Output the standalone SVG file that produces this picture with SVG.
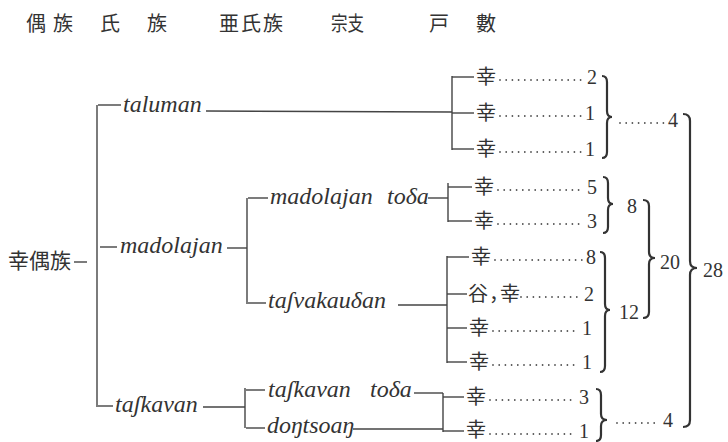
<svg xmlns="http://www.w3.org/2000/svg" width="728" height="442" viewBox="0 0 728 442">
<style>
.cjk{font-family:"Noto Sans CJK JP","Noto Sans CJK SC",sans-serif;fill:#333}
.rom{font-family:"Liberation Serif","DejaVu Serif",serif;font-style:italic;font-size:24px;fill:#333}
.num{font-family:"Liberation Serif","DejaVu Serif",serif;font-size:20px;fill:#333}
.ln{stroke:#444;stroke-width:1.4;fill:none}
.dot{stroke:#555;stroke-width:1.8;stroke-linecap:round;stroke-dasharray:0 6.2;fill:none}
.br{stroke:#333;stroke-width:2.2;fill:none}
</style>
<rect width="728" height="442" fill="#fff"/>
<g id="header" class="cjk" font-size="20">
<text x="26" y="31">偶</text>
<text x="53" y="31">族</text>
<text x="100" y="31">氏</text>
<text x="147" y="31">族</text>
<text x="219" y="31" letter-spacing="2">亜氏族</text>
<text x="331" y="31" textLength="33" lengthAdjust="spacingAndGlyphs">宗支</text>
<text x="429" y="31">戸</text>
<text x="476" y="31">數</text>
</g>
<g id="connectors">
<line class="ln" x1="74" y1="262" x2="87" y2="262"/>
<line class="ln" x1="97" y1="105" x2="97" y2="407"/>
<line class="ln" x1="98" y1="105" x2="121" y2="105"/>
<line class="ln" x1="206" y1="111" x2="452" y2="112"/>
<line class="ln" x1="100" y1="247" x2="117" y2="247"/>
<line class="ln" x1="227" y1="248" x2="247" y2="248"/>
<line class="ln" x1="98" y1="406" x2="113" y2="406"/>
<line class="ln" x1="203" y1="407" x2="245" y2="407"/>
<line class="ln" x1="247" y1="198" x2="247" y2="304"/>
<line class="ln" x1="248" y1="198" x2="268" y2="198"/>
<line class="ln" x1="428" y1="198" x2="448" y2="198"/>
<line class="ln" x1="248" y1="303" x2="266" y2="303"/>
<line class="ln" x1="398" y1="305" x2="447" y2="305"/>
<line class="ln" x1="245" y1="388" x2="245" y2="428"/>
<line class="ln" x1="246" y1="390" x2="265" y2="390"/>
<line class="ln" x1="414" y1="393" x2="443" y2="393"/>
<line class="ln" x1="246" y1="428" x2="265" y2="428"/>
<line class="ln" x1="353" y1="429" x2="443" y2="429"/>
<line class="ln" x1="452" y1="76" x2="452" y2="150"/>
<line class="ln" x1="448" y1="183" x2="448" y2="222"/>
<line class="ln" x1="447" y1="256" x2="447" y2="363"/>
<line class="ln" x1="443" y1="393" x2="443" y2="432"/>
<line class="ln" x1="452" y1="77" x2="474" y2="77"/>
<line class="ln" x1="452" y1="113" x2="474" y2="113"/>
<line class="ln" x1="452" y1="149" x2="474" y2="149"/>
<line class="ln" x1="448" y1="187" x2="472" y2="187"/>
<line class="ln" x1="448" y1="221" x2="472" y2="221"/>
<line class="ln" x1="447" y1="257" x2="469" y2="257"/>
<line class="ln" x1="447" y1="294" x2="467" y2="294"/>
<line class="ln" x1="447" y1="328" x2="467" y2="328"/>
<line class="ln" x1="447" y1="362" x2="467" y2="362"/>
<line class="ln" x1="443" y1="397" x2="464" y2="397"/>
<line class="ln" x1="443" y1="431" x2="464" y2="431"/>
<line class="dot" x1="500" y1="80" x2="584" y2="80"/>
<line class="dot" x1="500" y1="116" x2="584" y2="116"/>
<line class="dot" x1="500" y1="152" x2="584" y2="152"/>
<line class="dot" x1="498" y1="190" x2="584" y2="190"/>
<line class="dot" x1="498" y1="224" x2="584" y2="224"/>
<line class="dot" x1="495" y1="260" x2="583" y2="260"/>
<line class="dot" x1="521" y1="297" x2="580" y2="297"/>
<line class="dot" x1="493" y1="331" x2="578" y2="331"/>
<line class="dot" x1="493" y1="365" x2="578" y2="365"/>
<line class="dot" x1="490" y1="400" x2="575" y2="400"/>
<line class="dot" x1="490" y1="434" x2="575" y2="434"/>
<line class="dot" x1="620" y1="123" x2="664" y2="123"/>
<line class="dot" x1="617" y1="423" x2="659" y2="423"/>
<path class="br" d="M602 76 Q607 76 607 82 L607 111 Q607 117 612 117 Q607 117 607 123 L607 152 Q607 158 602 158"/>
<path class="br" d="M603 177 Q608 177 608 183 L608 198 Q608 204 613 204 Q608 204 608 210 L608 227 Q608 233 603 233"/>
<path class="br" d="M600 252 Q605 252 605 258 L605 304 Q605 310 610 310 Q605 310 605 316 L605 366 Q605 372 600 372"/>
<path class="br" d="M596 389 Q601 389 601 395 L601 414 Q601 420 607 420 Q601 420 601 426 L601 435 Q601 441 596 441"/>
<path class="br" d="M643 200 Q649 200 649 206 L649 252 Q649 258 655 258 Q649 258 649 264 L649 312 Q649 318 643 318"/>
<path class="br" d="M683 114 Q690 114 690 121 L690 261 Q690 268 697 268 Q690 268 690 275 L690 420 Q690 427 683 427"/>
</g>
<g id="root"><text class="cjk" x="8" y="268" font-size="21">幸偶族</text></g>
<g id="clan-taluman"><text class="rom" x="123" y="112">taluman</text></g>
<g id="clan-madolajan"><text class="rom" x="120" y="253">madolajan</text></g>
<g id="clan-taskavan"><text class="rom" x="115" y="412">taʃkavan</text></g>
<g id="sub-madolajan-toda"><text class="rom" x="270" y="204">madolajan<tspan x="387">toδa</tspan></text></g>
<g id="sub-tasvakaudan"><text class="rom" x="268" y="308">taʃvakauδan</text></g>
<g id="sub-taskavan-toda"><text class="rom" x="268" y="397">taʃkavan<tspan x="370">toδa</tspan></text></g>
<g id="sub-dontsoan"><text class="rom" x="267" y="433">doŋtsoaŋ</text></g>
<g id="rows" class="cjk" font-size="20">
<g id="row1"><text x="476" y="84">幸</text><text class="num" x="597" y="84" text-anchor="end">2</text></g>
<g id="row2"><text x="476" y="120">幸</text><text class="num" x="595" y="120" text-anchor="end">1</text></g>
<g id="row3"><text x="476" y="156">幸</text><text class="num" x="595" y="156" text-anchor="end">1</text></g>
<g id="row4"><text x="474" y="194">幸</text><text class="num" x="597" y="194" text-anchor="end">5</text></g>
<g id="row5"><text x="474" y="228">幸</text><text class="num" x="597" y="228" text-anchor="end">3</text></g>
<g id="row6"><text x="471" y="264">幸</text><text class="num" x="596" y="264" text-anchor="end">8</text></g>
<g id="row7"><text x="468 489 500" y="301">谷，幸</text><text class="num" x="594" y="301" text-anchor="end">2</text></g>
<g id="row8"><text x="469" y="335">幸</text><text class="num" x="592" y="335" text-anchor="end">1</text></g>
<g id="row9"><text x="469" y="369">幸</text><text class="num" x="592" y="369" text-anchor="end">1</text></g>
<g id="row10"><text x="466" y="404">幸</text><text class="num" x="589" y="404" text-anchor="end">3</text></g>
<g id="row11"><text x="466" y="437">幸</text><text class="num" x="589" y="438" text-anchor="end">1</text></g>
</g>
<g id="totals" class="num">
<text x="668" y="127">4</text>
<text x="627" y="213">8</text>
<text x="619" y="319">12</text>
<text x="660" y="269">20</text>
<text x="703" y="277">28</text>
<text x="663" y="427">4</text>
</g>
</svg>
